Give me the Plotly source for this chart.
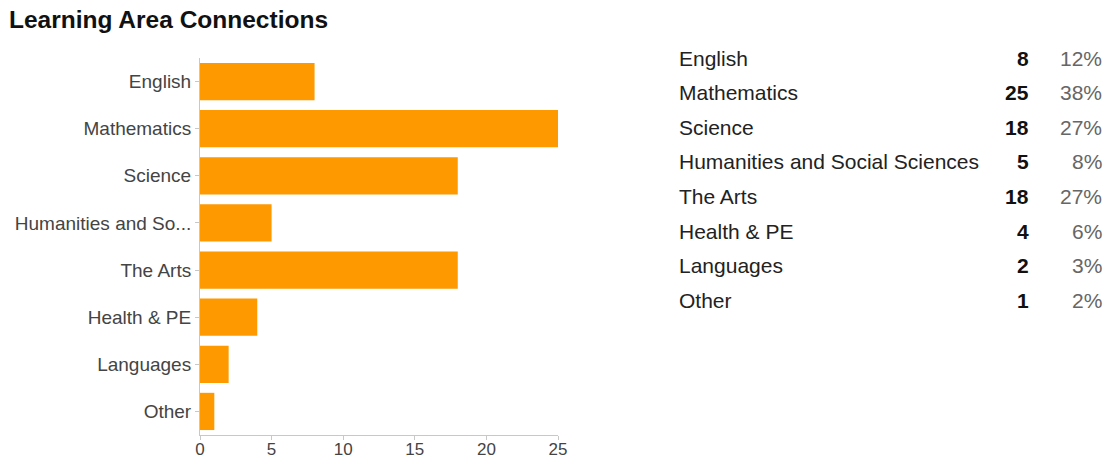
import plotly.graph_objects as go

# Learning area responses
categories = ["English", "Mathematics", "Science", "Humanities and Social Sciences",
              "The Arts", "Health & PE", "Languages", "Other"]
axis_labels = ["English", "Mathematics", "Science", "Humanities and So...",
               "The Arts", "Health & PE", "Languages", "Other"]
counts = [8, 25, 18, 5, 18, 4, 2, 1]
percents = ["12%", "38%", "27%", "8%", "27%", "6%", "3%", "2%"]
x_ticks = [0, 5, 10, 15, 20, 25]

W, H = 1107, 464
L, R, T, B = 200, 558, 58, 435  # plot area in pixels

FONT = "Liberation Sans, Arial, Helvetica, sans-serif"

fig = go.Figure(
    go.Bar(
        x=counts,
        y=categories,
        orientation="h",
        marker=dict(color="#FF9900", line=dict(width=0)),
        hoverinfo="x+y",
    )
)

fig.update_layout(
    width=W,
    height=H,
    margin=dict(l=L, r=W - R, t=T, b=H - B, pad=0),
    paper_bgcolor="white",
    plot_bgcolor="white",
    bargap=0.21,
    showlegend=False,
    font=dict(family=FONT, color="#444444", size=16),
    title=dict(
        text="<b>Learning Area Connections</b>",
        x=9 / W, xanchor="left",
        y=1 - 19 / H, yanchor="middle",
        font=dict(family=FONT, size=24.5, color="#111111"),
    ),
)

fig.update_xaxes(
    range=[0, 25],
    tickvals=x_ticks,
    showgrid=False,
    zeroline=False,
    showline=True,
    linecolor="#c8c8c8",
    linewidth=1,
    ticks="outside",
    ticklen=4,
    tickcolor="#c8c8c8",
    tickfont=dict(size=17, color="#444444"),
    ticklabelstandoff=-5,
    automargin=False,
    fixedrange=True,
)

fig.update_yaxes(
    categoryorder="array",
    categoryarray=categories[::-1],
    tickvals=categories,
    ticktext=axis_labels,
    showgrid=False,
    zeroline=False,
    showline=True,
    linecolor="#c8c8c8",
    linewidth=1,
    ticks="outside",
    ticklen=4,
    tickcolor="#c8c8c8",
    tickfont=dict(size=19, color="#444444"),
    automargin=False,
    fixedrange=True,
)

# Summary table to the right of the chart
row_y0 = 58
row_step = 34.6
name_x = 677
count_x = 1031
pct_x = 1104


def px_to_paper_x(px):
    return (px - L) / (R - L)


def px_to_paper_y(py):
    return (B - py) / (B - T)


for i, (name, c, p) in enumerate(zip(categories, counts, percents)):
    py = row_y0 + i * row_step
    yy = px_to_paper_y(py)
    fig.add_annotation(
        x=px_to_paper_x(name_x), y=yy, xref="paper", yref="paper",
        text=name, showarrow=False, xanchor="left", yanchor="middle",
        font=dict(family=FONT, size=21, color="#222222"),
    )
    fig.add_annotation(
        x=px_to_paper_x(count_x), y=yy, xref="paper", yref="paper",
        text=f"<b>{c}</b>", showarrow=False, xanchor="right", yanchor="middle",
        font=dict(family=FONT, size=21, color="#111111"),
    )
    fig.add_annotation(
        x=px_to_paper_x(pct_x), y=yy, xref="paper", yref="paper",
        text=p, showarrow=False, xanchor="right", yanchor="middle",
        font=dict(family=FONT, size=21, color="#666666"),
    )

fig.write_html("out.html", config={"displayModeBar": False})
